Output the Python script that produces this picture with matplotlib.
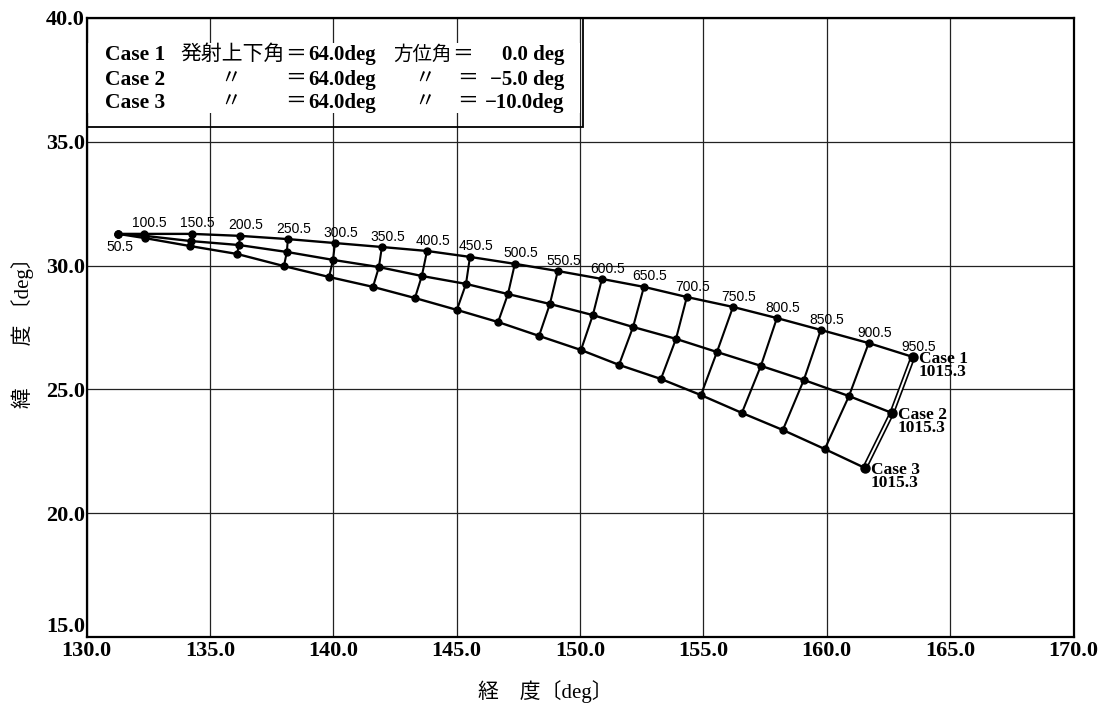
import matplotlib
matplotlib.use("Agg")
import matplotlib.pyplot as plt
import matplotlib.patheffects as pe
from matplotlib.patches import Rectangle

# flight time [s] at each marked point
times = [50.5, 100.5, 150.5, 200.5, 250.5, 300.5, 350.5, 400.5, 450.5, 500.5,
         550.5, 600.5, 650.5, 700.5, 750.5, 800.5, 850.5, 900.5, 950.5]
end_time = "1015.3"

# Case 1: elevation 64.0 deg, azimuth 0.0 deg
lon1 = [131.28, 132.33, 134.27, 136.22, 138.16, 140.07, 141.97, 143.80, 145.54, 147.36,
        149.10, 150.89, 152.59, 154.33, 156.20, 157.98, 159.76, 161.70, 163.49]
lat1 = [31.28, 31.28, 31.28, 31.20, 31.07, 30.91, 30.75, 30.59, 30.35, 30.07,
        29.78, 29.46, 29.14, 28.73, 28.33, 27.88, 27.40, 26.87, 26.31]

# Case 2: elevation 64.0 deg, azimuth -5.0 deg
lon2 = [131.28, 132.37, 134.23, 136.18, 138.12, 139.99, 141.85, 143.59, 145.38, 147.08,
        148.78, 150.52, 152.15, 153.89, 155.55, 157.33, 159.07, 160.90, 162.64]
lat2 = [31.28, 31.20, 30.99, 30.83, 30.55, 30.23, 29.94, 29.58, 29.26, 28.85,
        28.45, 28.00, 27.52, 27.04, 26.51, 25.95, 25.38, 24.73, 24.05]

# Case 3: elevation 64.0 deg, azimuth -10.0 deg
lon3 = [131.28, 132.37, 134.19, 136.10, 138.00, 139.83, 141.61, 143.31, 145.01, 146.68,
        148.34, 150.04, 151.58, 153.28, 154.90, 156.56, 158.22, 159.92, 161.54]
lat3 = [31.28, 31.11, 30.79, 30.47, 29.98, 29.54, 29.14, 28.69, 28.21, 27.72,
        27.16, 26.59, 25.99, 25.42, 24.77, 24.05, 23.36, 22.59, 21.83]

case_names = ["Case 1", "Case 2", "Case 3"]
xticks = [130, 135, 140, 145, 150, 155, 160, 165, 170]
yticks = [15, 20, 25, 30, 35, 40]

serif = ["Liberation Serif", "Noto Sans CJK JP"]
sans = ["Liberation Sans", "DejaVu Sans"]
plt.rcParams["font.family"] = serif

fig = plt.figure(figsize=(11.09, 7.13), dpi=100)
ax = fig.add_axes([0.078, 0.1066, 0.890, 0.8682])

ax.set_xlim(130, 170)
ax.set_ylim(15, 40)
ax.set_xticks(xticks)
ax.set_yticks(yticks)
ax.set_xticklabels([f"{v:.1f}" for v in xticks], fontsize=16, fontweight="bold")
ax.set_yticklabels([f"{v:.1f}" for v in yticks], fontsize=16, fontweight="bold")
# lowest latitude label sits above the corner so it clears 130.0
ax.get_yticklabels()[0].set_verticalalignment("bottom")
ax.tick_params(length=0)
ax.tick_params(axis="x", pad=3)
ax.tick_params(axis="y", pad=1)
ax.grid(True, color="#222222", linewidth=0.9)
ax.set_axisbelow(True)
for s in ax.spines.values():
    s.set_linewidth(1.6)

# trajectories
lons = [lon1, lon2, lon3]
lats = [lat1, lat2, lat3]
for lo, la in zip(lons, lats):
    ax.plot(lo, la, color="black", linewidth=1.7, marker="o", markersize=5, zorder=3)

# constant-time ribs across the three cases
for i in range(1, len(times) - 1):
    ax.plot([lon1[i], lon2[i], lon3[i]], [lat1[i], lat2[i], lat3[i]],
            color="black", linewidth=1.5, zorder=3)

# end-of-flight rib drawn as a double line
ax.plot([lon1[-1], lon2[-1], lon3[-1]], [lat1[-1], lat2[-1], lat3[-1]],
        color="black", linewidth=3.8, solid_capstyle="butt", zorder=3,
        path_effects=[pe.Stroke(linewidth=3.8, foreground="black"),
                      pe.Stroke(linewidth=1.4, foreground="white")])
ax.plot([lon1[-1], lon2[-1], lon3[-1]], [lat1[-1], lat2[-1], lat3[-1]],
        linestyle="none", marker="o", markersize=6.5, color="black", zorder=4)

# time labels along Case 1
for i, t in enumerate(times):
    if i == 0:
        off = (1.5, -9.5)
    else:
        off = (4, 7.5)
    ax.annotate(f"{t:.1f}", (lon1[i], lat1[i]), xytext=off, textcoords="offset points",
                ha="center", va="center", fontsize=10, family=sans, zorder=5)

# case names with the end time
for name, lo, la in zip(case_names, lons, lats):
    ax.annotate(f"{name}\n{end_time}", (lo[-1], la[-1]), xytext=(4.3, -6.5),
                textcoords="offset points", ha="left", va="center", fontsize=12.5,
                fontweight="bold", linespacing=0.75, zorder=5)

# launch condition table in the upper-left corner
ax.add_patch(Rectangle((0, 0.824), 0.503, 0.176, transform=ax.transAxes,
                       facecolor="none", edgecolor="black", linewidth=1.3, zorder=4))
ax.add_patch(Rectangle((0.002, 0.8465), 0.498, 0.113, transform=ax.transAxes,
                       facecolor="white", edgecolor="none", zorder=2.5))

rows_y = [0.940, 0.900, 0.863]
tfs = 15
azimuth = ["0.0 deg", "−5.0 deg", "−10.0deg"]
for k, y in enumerate(rows_y):
    ax.text(0.0187, y, case_names[k], transform=ax.transAxes, fontsize=15.5,
            fontweight="bold", va="center", zorder=5)
    if k == 0:
        ax.text(0.0947, y, "発射上下角", transform=ax.transAxes, fontsize=tfs, va="center", zorder=5)
        ax.text(0.3105, y, "方位角", transform=ax.transAxes, fontsize=14, va="center", zorder=5)
        eq2 = 0.370
    else:
        ax.text(0.1464, y, "〃", transform=ax.transAxes, fontsize=tfs, va="center", ha="center", zorder=5)
        ax.text(0.343, y, "〃", transform=ax.transAxes, fontsize=tfs, va="center", ha="center", zorder=5)
        eq2 = 0.375
    ax.text(0.201, y, "＝", transform=ax.transAxes, fontsize=tfs, va="center", zorder=5)
    ax.text(0.2245, y, "64.0deg", transform=ax.transAxes, fontsize=tfs,
            fontweight="bold", va="center", zorder=5)
    ax.text(eq2, y, "＝", transform=ax.transAxes, fontsize=tfs, va="center", zorder=5)
    ax.text(0.484, y, azimuth[k], transform=ax.transAxes, fontsize=tfs,
            fontweight="bold", va="center", ha="right", zorder=5)

ax.set_xlabel("経　度〔deg〕", fontsize=15)
ax.xaxis.set_label_coords(0.465, -0.07)
ax.set_ylabel("緯　　度 〔deg〕", fontsize=15, va="center")
ax.yaxis.set_label_coords(-0.065, 0.5)

fig.savefig("out.png", dpi=100)
